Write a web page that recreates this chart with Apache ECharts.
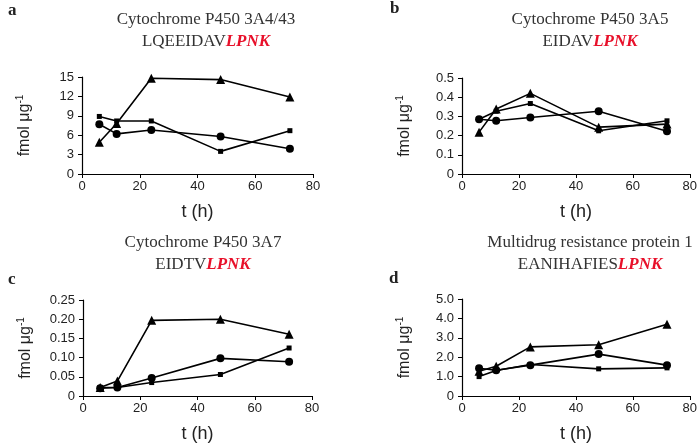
<!DOCTYPE html>
<html lang="en">
<head>
    <meta charset="UTF-8">
    <title>LPNK peptides</title>
    <script src="https://cdn.jsdelivr.net/npm/echarts@6/dist/echarts.min.js"></script>
</head>
<body style="margin:0">
<div id="main" style="width: 700px;height: 444px"></div>
<script type="text/javascript">
    // time points (h)
    var hours = [6, 12, 24, 48, 72];

    // a: Cytochrome P450 3A4/43
    var aTriangle = [4.9, 7.8, 14.8, 14.6, 11.9];
    var aSquare = [8.9, 8.2, 8.2, 3.5, 6.7];
    var aCircle = [7.7, 6.2, 6.8, 5.8, 3.9];
    // b: Cytochrome P450 3A5
    var bTriangle = [0.218, 0.339, 0.42, 0.244, 0.26];
    var bSquare = [0.285, 0.327, 0.367, 0.225, 0.277];
    var bCircle = [0.285, 0.277, 0.294, 0.327, 0.223];
    // c: Cytochrome P450 3A7
    var cTriangle = [0.022, 0.039, 0.197, 0.2, 0.161];
    var cSquare = [0.022, 0.022, 0.035, 0.056, 0.125];
    var cCircle = [0.02, 0.022, 0.047, 0.098, 0.089];
    // d: Multidrug resistance protein 1
    var dTriangle = [1.28, 1.53, 2.53, 2.64, 3.7];
    var dSquare = [1.0, 1.31, 1.62, 1.4, 1.45];
    var dCircle = [1.43, 1.33, 1.59, 2.16, 1.59];

    var panelLetters = ['a', 'b', 'c', 'd'];
    var titleLines = ['Cytochrome P450 3A4/43', 'Cytochrome P450 3A5', 'Cytochrome P450 3A7', 'Multidrug resistance protein 1'];
    var peptidePrefix = ['LQEEIDAV', 'EIDAV', 'EIDTV', 'EANIHAFIES'];
    var yMax = [15, 0.5, 0.25, 5];
    var yStep = [3, 0.1, 0.05, 1];
    var yDecimals = [0, 1, 2, 1];

    var panels = [
        [aTriangle, aSquare, aCircle],
        [bTriangle, bSquare, bCircle],
        [cTriangle, cSquare, cCircle],
        [dTriangle, dSquare, dCircle]
    ];

    var grids = [
        {left: 82, top: 77, width: 231, height: 97},
        {left: 462, top: 78, width: 228, height: 96},
        {left: 83, top: 300, width: 229, height: 96},
        {left: 462, top: 299, width: 229, height: 97}
    ];
    var titlePos = [[201, 4], [585, 4], [198, 227], [585, 227]];
    var letterPos = [[3, -3], [385, -5], [3, 266], [384, 265]];

    var serif = 'Liberation Serif';
    var sans = 'Liberation Sans';

    var titles = [], xAxes = [], yAxes = [], series = [];
    var symbols = ['triangle', 'rect', 'circle'];
    var symbolSizes = [9, 5, 8];

    for (var i = 0; i < 4; i++) {
        titles.push({
            text: titleLines[i] + '\n{p|' + peptidePrefix[i] + '}{r|LPNK}',
            left: titlePos[i][0], top: titlePos[i][1], textAlign: 'center',
            textStyle: {
                fontFamily: serif, fontSize: 17, fontWeight: 'normal', color: '#333', lineHeight: 22,
                rich: {
                    p: {fontFamily: serif, fontSize: 17, color: '#333', lineHeight: 22},
                    r: {fontFamily: serif, fontSize: 17, color: '#e8102a', fontWeight: 'bold', fontStyle: 'italic', lineHeight: 22}
                }
            }
        });
        titles.push({
            text: panelLetters[i],
            left: letterPos[i][0], top: letterPos[i][1],
            textStyle: {fontFamily: serif, fontSize: 17, fontWeight: 'bold', color: '#222'}
        });
        xAxes.push({
            type: 'value', gridIndex: i, min: 0, max: 80, interval: 20,
            name: 't (h)', nameLocation: 'middle', nameGap: 29,
            nameTextStyle: {fontFamily: sans, fontSize: 18, color: '#222'},
            axisLine: {lineStyle: {color: '#000', width: 1.2}},
            axisTick: {length: 4, lineStyle: {color: '#000'}},
            axisLabel: {fontFamily: sans, fontSize: 13, color: '#222', margin: 6},
            splitLine: {show: false}
        });
        (function (d) {
            yAxes.push({
                type: 'value', gridIndex: i, min: 0, max: yMax[i], interval: yStep[i],
                name: 'fmol μg{s|-1}', nameLocation: 'middle', nameRotate: 90, nameGap: 47,
                nameTextStyle: {
                    fontFamily: sans, fontSize: 16, color: '#222',
                    rich: {s: {fontFamily: sans, fontSize: 10, color: '#222', verticalAlign: 'top', padding: [0, 0, 10, 0]}}
                },
                axisLine: {show: true, lineStyle: {color: '#000', width: 1.2}},
                axisTick: {show: true, length: 4, lineStyle: {color: '#000'}},
                axisLabel: {
                    fontFamily: sans, fontSize: 13, color: '#222', margin: 8,
                    formatter: function (v) { return v === 0 ? '0' : v.toFixed(d); }
                },
                splitLine: {show: false}
            });
        })(yDecimals[i]);
        for (var k = 0; k < 3; k++) {
            var data = [];
            for (var j = 0; j < hours.length; j++) data.push([hours[j], panels[i][k][j]]);
            series.push({
                type: 'line', xAxisIndex: i, yAxisIndex: i, data: data,
                symbol: symbols[k], symbolSize: symbolSizes[k], showAllSymbol: true,
                lineStyle: {color: '#000', width: 1.6},
                itemStyle: {color: '#000'},
                animation: false
            });
        }
    }

    var myChart = echarts.init(document.getElementById('main'));
    myChart.setOption({
        backgroundColor: '#fff',
        animation: false,
        title: titles,
        grid: grids,
        xAxis: xAxes,
        yAxis: yAxes,
        series: series
    });
</script>
</body>
</html>
